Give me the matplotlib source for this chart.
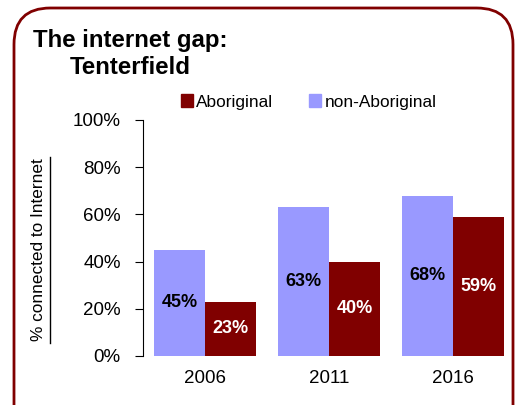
import numpy as np
import matplotlib.pyplot as plt
from matplotlib.patches import FancyBboxPatch, Patch
from matplotlib.lines import Line2D

plt.rcParams['font.family'] = ['Liberation Sans', 'DejaVu Sans']

years = ['2006', '2011', '2016']
aboriginal = [23, 40, 59]
non_aboriginal = [45, 63, 68]
yticks = [0, 20, 40, 60, 80, 100]

maroon = '#800000'
lilac = '#9999FF'

fig = plt.figure(figsize=(5.2, 4.05), dpi=100)
W, H = 520, 405

# rounded border
frame = FancyBboxPatch((14 / W, -0.2), 499 / W, (405 - 8) / H + 0.2,
                       boxstyle="round,pad=0,rounding_size=0.07",
                       transform=fig.transFigure, facecolor='none',
                       edgecolor=maroon, linewidth=2, mutation_aspect=W / H)
fig.patches.append(frame)

ax = fig.add_axes([143 / W, 1 - 356 / H, (515 - 143) / W, (356 - 120) / H])
x = np.arange(len(years))
w = 0.41
b1 = ax.bar(x - w / 2, non_aboriginal, w, color=lilac, label='non-Aboriginal')
b2 = ax.bar(x + w / 2, aboriginal, w, color=maroon, label='Aboriginal')

for rect, v in zip(b1, non_aboriginal):
    ax.text(rect.get_x() + rect.get_width() / 2, v / 2, f'{v}%', ha='center', va='center',
            fontsize=13, fontweight='bold', color='black')
for rect, v in zip(b2, aboriginal):
    ax.text(rect.get_x() + rect.get_width() / 2, v / 2, f'{v}%', ha='center', va='center',
            fontsize=13, fontweight='bold', color='white')

ax.set_xlim(-0.5, 2.5)
ax.set_ylim(0, 100)
ax.set_yticks(yticks)
ax.set_yticklabels([f'{t}%' for t in yticks], fontsize=13.5)
ax.set_xticks(x)
ax.set_xticklabels(years, fontsize=13.5)
ax.tick_params(axis='x', length=0, pad=10)
ax.tick_params(axis='y', length=6, width=0.8, pad=10, direction='out')
for s in ['top', 'right', 'bottom']:
    ax.spines[s].set_visible(False)
ax.spines['left'].set_linewidth(0.8)

# y label with underline
fig.text(39 / W, 1 - 250 / H, '% connected to Internet', rotation=90,
         ha='center', va='center', fontsize=12.4)
fig.add_artist(Line2D([50 / W, 50 / W], [1 - 157 / H, 1 - 343 / H],
                      transform=fig.transFigure, color='black', linewidth=1))

fig.text(33 / W, 1 - 40 / H, 'The internet gap:', fontsize=17.3, fontweight='bold',
         ha='left', va='center')
fig.text(70 / W, 1 - 67 / H, 'Tenterfield', fontsize=17.3, fontweight='bold',
         ha='left', va='center')

handles = [Patch(color=maroon), Patch(color=lilac)]
fig.legend(handles, ['Aboriginal', 'non-Aboriginal'], ncol=2, frameon=False,
           loc='center left', bbox_to_anchor=(165 / W, 1 - 102 / H), fontsize=12.4,
           handlelength=0.7, handleheight=0.7, handletextpad=0.2, columnspacing=2.1)

plt.savefig('out.png', dpi=100)
